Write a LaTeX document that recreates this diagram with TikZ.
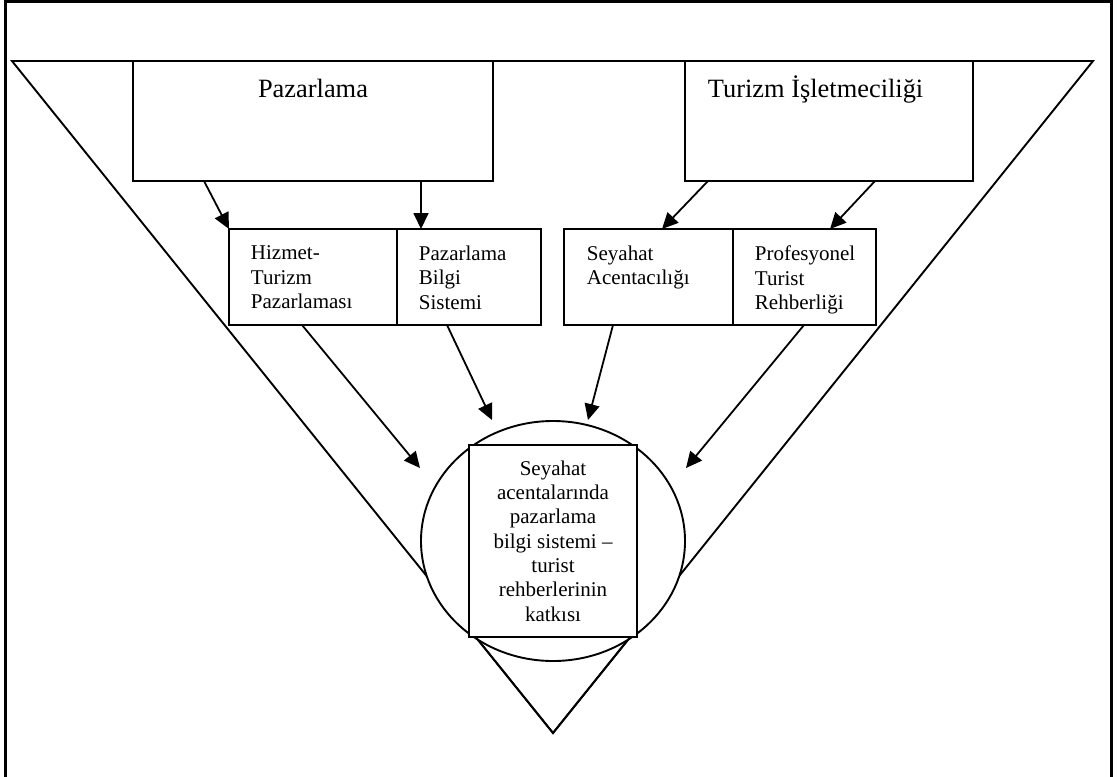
\documentclass[tikz,border=0pt]{standalone}
\usepackage{fontspec}
\setmainfont{Liberation Serif}
\usetikzlibrary{positioning,arrows.meta,shapes.geometric,calc}

\begin{document}
\begin{tikzpicture}[
    x=1pt, y=-1pt,
    line width=1.9pt,
    bigbox/.style={draw, fill=white, minimum width=#1, minimum height=120pt, inner sep=0pt, outer sep=0pt},
    smallbox/.style={draw, fill=white, minimum width=#1, minimum height=96pt, inner sep=0pt, outer sep=0pt},
    bigtxt/.style={font=\fontsize{26.4}{30}\selectfont, inner sep=0pt},
    smalltxt/.style={font=\fontsize{21}{24.3}\selectfont, align=left, inner sep=0pt, anchor=north west},
    arr/.style={-{Triangle[length=16pt,width=15pt]}, line width=1.8pt}
  ]
  \useasboundingbox (0,0) rectangle (1118,776);
  % frame (bottom edge lies off the page)
  \draw[line width=3pt] (5,790) |- (1111,2) -- (1111,790);

  % funnel
  \coordinate (tl) at (12,61);
  \coordinate (tr) at (1093,61);
  \coordinate (apex) at (553,733);
  \draw (tl) -- (tr) -- (apex) -- cycle;

  % top boxes
  \node[bigbox=360pt] (paz) at (313,121) {};
  \node[bigbox=288pt] (tur) at (829,121) {};
  \node[bigtxt, anchor=base] (paztxt) at ([yshift=-36pt]paz.north) {Pazarlama};
  \node[bigtxt, anchor=base west] (turtxt) at ([xshift=22pt,yshift=-36pt]tur.north west) {Turizm İşletmeciliği};

  % middle boxes
  \node[smallbox=168pt] (hiz) at (313,277) {};
  \node[smallbox=144pt, right=0pt of hiz] (pbs) {};
  \node[smallbox=169pt] (sey) at (648.5,277) {};
  \node[smallbox=143pt, right=0pt of sey] (pro) {};
  \node[smalltxt] (hiztxt) at ([xshift=21pt,yshift=-16pt]hiz.north west) {Hizmet-\\Turizm\\Pazarlaması};
  \node[smalltxt] (pbstxt) at ([xshift=21pt,yshift=-16pt]pbs.north west) {Pazarlama\\Bilgi\\Sistemi};
  \node[smalltxt] (seytxt) at ([xshift=22pt,yshift=-16pt]sey.north west) {Seyahat\\Acentacılığı};
  \node[smalltxt] (protxt) at ([xshift=21pt,yshift=-16pt]pro.north west) {Profesyonel\\Turist\\Rehberliği};

  % centre
  \node[draw, ellipse, fill=white, minimum width=264pt, minimum height=240pt, inner sep=0pt] (circ) at (553,541) {};
  \node[draw, fill=white, minimum width=168pt, minimum height=192pt, inner sep=0pt, outer sep=0pt,
        align=center, font=\fontsize{21}{24.3}\selectfont] (sq) at (553,541)
        {Seyahat\\acentalarında\\pazarlama\\bilgi sistemi --\\turist\\rehberlerinin\\katkısı};
  \draw (intersection of tl--apex and sq.south west--sq.south east) -- (apex)
        -- (intersection of tr--apex and sq.south west--sq.south east);

  % arrows
  \draw[arr] ([xshift=71pt]paz.south west) -- (hiz.north west);
  \draw[arr] ([xshift=24pt]pbs.north west |- paz.south) -- ([xshift=24pt]pbs.north west);
  \draw[arr] ([xshift=23pt]tur.south west) -- ([xshift=98pt]sey.north west);
  \draw[arr] ([xshift=190pt]tur.south west) -- ([xshift=97pt]pro.north west);
  \draw[arr] ([xshift=73pt]hiz.south west) -- ($(circ.center)+(-133,-73)$);
  \draw[arr] ([xshift=50pt]pbs.south west) -- ($(circ.center)+(-61,-121)$);
  \draw[arr] ([xshift=49pt]sey.south west) -- ($(circ.center)+(35,-121)$);
  \draw[arr] ([xshift=71pt]pro.south west) -- ($(circ.center)+(133,-73)$);
\end{tikzpicture}
\end{document}
